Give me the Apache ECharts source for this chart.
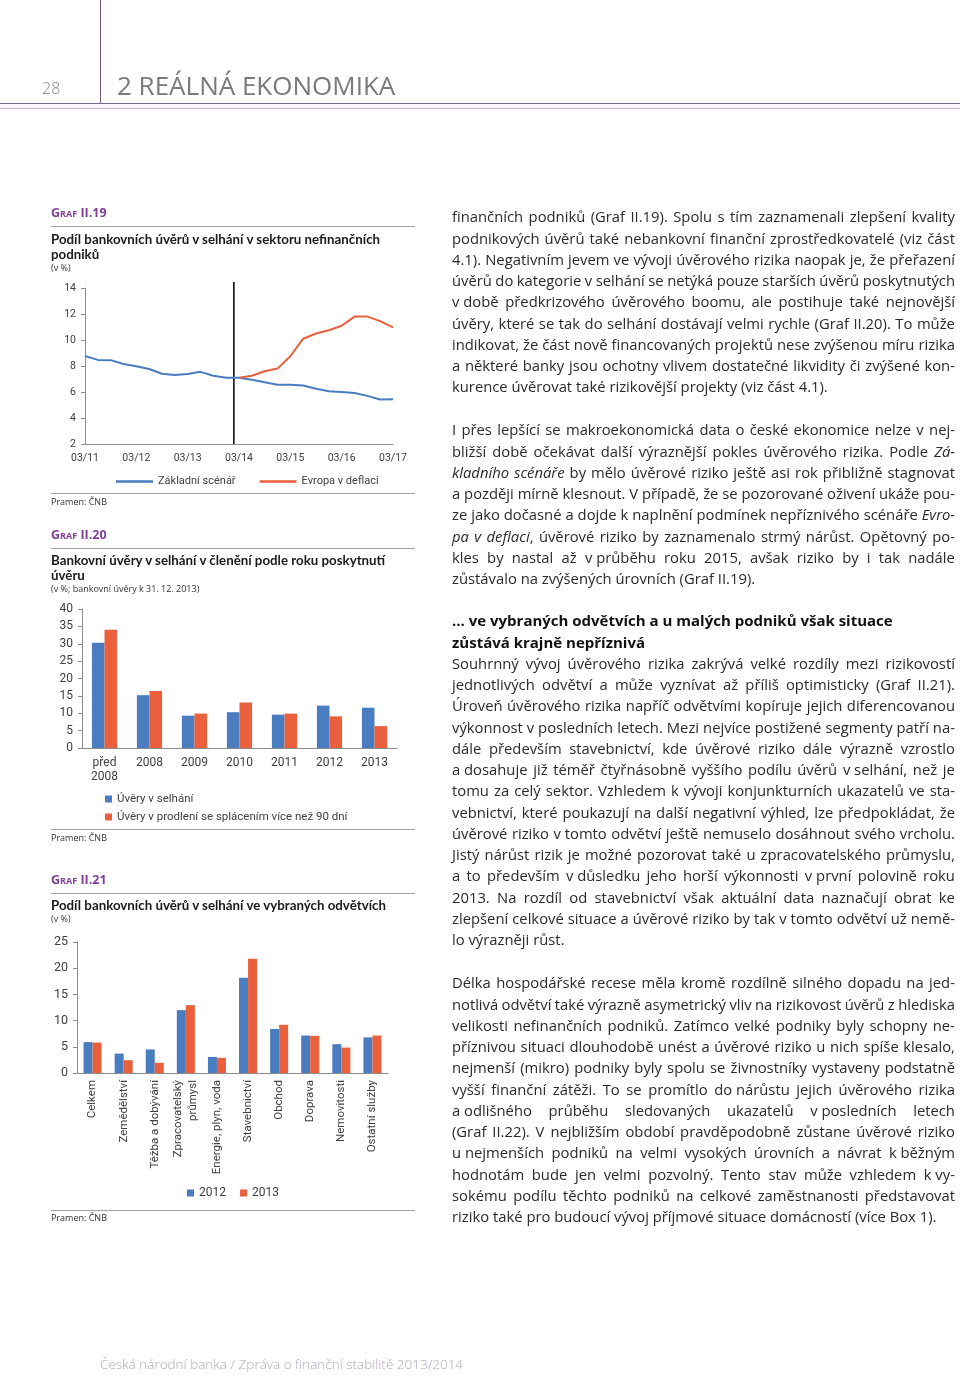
<!DOCTYPE html>
<html><head><meta charset="utf-8">
<script src="https://cdn.jsdelivr.net/npm/echarts@6/dist/echarts.min.js"></script>
<style>
body{margin:0;width:960px;height:1376px;position:relative;background:#fff;overflow:hidden;font-family:'Open Sans',sans-serif;color:#2a2a2a;}
#chart{position:absolute;left:0;top:0;width:960px;height:1376px;}
.abs{position:absolute;white-space:nowrap;}
.graf{font-family:'Open Sans',sans-serif;font-weight:700;font-variant:small-caps;color:#7f3f98;font-size:12.5px;line-height:16px;}
.ttl{font-family:'Lato','Open Sans',sans-serif;font-weight:700;font-size:13.3px;line-height:15px;color:#1a1a1a;}
.sub{font-size:9px;line-height:12px;color:#333;}
.src{font-size:9px;line-height:12px;color:#333;}
.sep{position:absolute;left:51px;width:364px;height:1px;background:#a3a3a3;}
.body{position:absolute;left:452px;width:503px;font-size:14.8px;line-height:21.25px;font-weight:400;}
.ln{display:flex;justify-content:space-between;white-space:nowrap;height:21.25px;}
.ln.last{display:block;}
.bold{font-weight:700;font-size:15px;color:#111;}
</style></head>
<body>
<div id="chart"></div>

<!-- header -->
<div class="abs" style="left:100px;top:0;width:1px;height:104px;background:#6f5d82"></div>
<div class="abs" style="left:0;top:103px;width:960px;height:6px;background:#fcf5fb;border-top:1.5px solid #7b6a8c;border-bottom:1px solid #c8b6cf;box-sizing:border-box"></div>
<div class="abs" style="left:42px;top:77px;font-size:16px;line-height:22px;color:#8a8a8a;font-weight:300">28</div>
<div class="abs" style="left:117px;top:67px;font-size:26px;line-height:36px;color:#7a7a7a;font-weight:400">2 REÁLNÁ EKONOMIKA</div>

<!-- Graf II.19 -->
<div class="abs graf" style="left:51px;top:205px">Graf II.19</div>
<div class="sep" style="top:226px"></div>
<div class="abs ttl" style="left:51px;top:232px">Podíl bankovních úvěrů v selhání v sektoru nefinančních<br>podniků</div>
<div class="abs sub" style="left:51px;top:262px">(v %)</div>
<div class="sep" style="top:493px"></div>
<div class="abs src" style="left:51px;top:496px">Pramen: ČNB</div>

<!-- Graf II.20 -->
<div class="abs graf" style="left:51px;top:527px">Graf II.20</div>
<div class="sep" style="top:548px"></div>
<div class="abs ttl" style="left:51px;top:553px">Bankovní úvěry v selhání v členění podle roku poskytnutí<br>úvěru</div>
<div class="abs sub" style="left:51px;top:583px">(v %; bankovní úvěry k 31. 12. 2013)</div>
<div class="sep" style="top:829px"></div>
<div class="abs src" style="left:51px;top:832px">Pramen: ČNB</div>

<!-- Graf II.21 -->
<div class="abs graf" style="left:51px;top:872px">Graf II.21</div>
<div class="sep" style="top:893px"></div>
<div class="abs ttl" style="left:51px;top:898px">Podíl bankovních úvěrů v selhání ve vybraných odvětvích</div>
<div class="abs sub" style="left:51px;top:913px">(v %)</div>
<div class="sep" style="top:1210px"></div>
<div class="abs src" style="left:51px;top:1212px">Pramen: ČNB</div>

<!-- body text -->
<div class="body" id="p1" style="top:206.4px"></div>
<div class="body" id="p2" style="top:419.4px"></div>
<div class="body" id="p3" style="top:610.4px"></div>
<div class="body" id="p4" style="top:972.4px"></div>

<div class="abs" style="left:100px;top:1353px;font-size:13.5px;line-height:22px;color:#b3a5ba;font-weight:300">Česká národní banka / Zpráva o finanční stabilitě 2013/2014</div>

<script>
// ---------- chart data ----------
// Graf II.19 (quarterly, 03/11 .. 03/17)
const q19TickLabels = ['03/11','03/12','03/13','03/14','03/15','03/16','03/17'];
const baseScenario = [8.77,8.47,8.45,8.15,7.98,7.77,7.40,7.30,7.38,7.55,7.25,7.10,7.10,6.95,6.75,6.55,6.55,6.50,6.25,6.05,6.00,5.93,5.70,5.42,5.45];
const deflationScenario = [7.10,7.25,7.60,7.80,8.75,10.10,10.50,10.75,11.10,11.80,11.80,11.45,10.97];
const deflationStartIndex = 12;
const forecastBoundary = 11.6;
const boundaryLine = [[forecastBoundary, 0], [forecastBoundary, 1]];

// Graf II.20
const yearCats = ['před\n2008','2008','2009','2010','2011','2012','2013'];
const defaultedLoans = [30.3,15.2,9.3,10.3,9.6,12.2,11.6];
const overdue90Loans = [34.0,16.4,9.9,13.1,9.9,9.1,6.3];

// Graf II.21
const sectorCats = ['Celkem','Zemědělství','Těžba a dobývání','Zpracovatelský\nprůmysl','Energie, plyn, voda','Stavebnictví','Obchod','Doprava','Nemovitosti','Ostatní služby'];
const share2012 = [5.9,3.7,4.5,12.0,3.05,18.2,8.4,7.15,5.5,6.8];
const share2013 = [5.8,2.45,1.95,12.95,2.9,21.8,9.2,7.1,4.85,7.15];

const BLUE = '#4a7dc0', RED = '#ea5f3c', AX = '#8c8c8c', LBL = '#404040';

const chart = echarts.init(document.getElementById('chart'));
const yAxisBase = (gi, min, max, interval, fs) => ({
  gridIndex: gi, type: 'value', min, max, interval,
  axisLine: {show: true, lineStyle: {color: AX, width: 1}},
  axisTick: {show: true, length: 4, lineStyle: {color: AX}},
  splitLine: {show: false},
  axisLabel: {fontSize: fs, color: LBL, margin: 9, fontFamily: 'Roboto'}
});
chart.setOption({
  animation: false,
  textStyle: {fontFamily: 'Roboto'},
  grid: [
    {left: 85, top: 288, width: 308, height: 156},
    {left: 82, top: 609, width: 315, height: 139},
    {left: 77, top: 942, width: 311, height: 131},
    {left: 85, top: 282, width: 308, height: 162}
  ],
  xAxis: [
    {gridIndex: 0, type: 'value', min: 0, max: 24, interval: 4,
     axisLine: {lineStyle: {color: AX}}, axisTick: {show: false}, splitLine: {show: false},
     axisLabel: {formatter: v => q19TickLabels[v / 4], fontSize: 10.5, color: LBL, margin: 9}},
    {gridIndex: 1, type: 'category', data: yearCats,
     axisLine: {lineStyle: {color: AX}}, axisTick: {show: false},
     axisLabel: {fontSize: 12, lineHeight: 14, color: LBL, margin: 8, interval: 0}},
    {gridIndex: 2, type: 'category', data: sectorCats,
     axisLine: {lineStyle: {color: AX}}, axisTick: {show: false},
     axisLabel: {rotate: 90, fontSize: 11.5, lineHeight: 15, color: LBL, margin: 7, interval: 0}},
    {gridIndex: 3, type: 'value', min: 0, max: 24, show: false}
  ],
  yAxis: [
    yAxisBase(0, 2, 14, 2, 10.5),
    yAxisBase(1, 0, 40, 5, 12),
    yAxisBase(2, 0, 25, 5, 12.5),
    {gridIndex: 3, type: 'value', min: 0, max: 1, show: false}
  ],
  legend: [
    {data: ['Základní scénář', 'Evropa v deflaci'], left: 111, top: 471, icon: 'rect',
     itemWidth: 37, itemHeight: 2.5, itemGap: 24, textStyle: {fontSize: 11, color: LBL}},
    {data: ['Úvěry v selhání', 'Úvěry v prodlení se splácením více než 90 dní'], orient: 'vertical',
     left: 100, top: 788, icon: 'rect', itemWidth: 7, itemHeight: 7, itemGap: 6,
     textStyle: {fontSize: 11.5, color: LBL}},
    {data: ['2012', '2013'], left: 182, top: 1182, icon: 'rect', itemWidth: 7, itemHeight: 7,
     itemGap: 14, textStyle: {fontSize: 12, color: LBL}}
  ],
  series: [
    {name: 'Základní scénář', type: 'line', xAxisIndex: 0, yAxisIndex: 0, symbol: 'none',
     data: baseScenario.map((v, i) => [i, v]), lineStyle: {color: BLUE, width: 2}, itemStyle: {color: BLUE}, z: 3},
    {name: 'Evropa v deflaci', type: 'line', xAxisIndex: 0, yAxisIndex: 0, symbol: 'none',
     data: deflationScenario.map((v, i) => [i + deflationStartIndex, v]),
     lineStyle: {color: RED, width: 2}, itemStyle: {color: RED}, z: 3},
    {name: 'hranice', type: 'line', xAxisIndex: 3, yAxisIndex: 3, symbol: 'none', silent: true,
     data: boundaryLine, lineStyle: {color: '#000', width: 1.5}, z: 2},
    {name: 'Úvěry v selhání', type: 'bar', xAxisIndex: 1, yAxisIndex: 1, data: defaultedLoans,
     itemStyle: {color: BLUE}, barGap: '0%', barCategoryGap: '44%'},
    {name: 'Úvěry v prodlení se splácením více než 90 dní', type: 'bar', xAxisIndex: 1, yAxisIndex: 1,
     data: overdue90Loans, itemStyle: {color: RED}, barGap: '0%', barCategoryGap: '44%'},
    {name: '2012', type: 'bar', xAxisIndex: 2, yAxisIndex: 2, data: share2012,
     itemStyle: {color: BLUE}, barGap: '0%', barCategoryGap: '42%'},
    {name: '2013', type: 'bar', xAxisIndex: 2, yAxisIndex: 2, data: share2013,
     itemStyle: {color: RED}, barGap: '0%', barCategoryGap: '42%'}
  ]
});

// ---------- body text (line breaks as in the original) ----------
const NB = '\u00a0';
const p1 = [
 'finančních podniků (Graf II.19). Spolu s tím zaznamenali zlepšení kvality',
 'podnikových úvěrů také nebankovní finanční zprostředkovatelé (viz část',
 '4.1). Negativním jevem ve vývoji úvěrového rizika naopak je, že přeřazení',
 'úvěrů do kategorie v selhání se netýká pouze starších úvěrů poskytnutých',
 'v'+NB+'době předkrizového úvěrového boomu, ale postihuje také nejnovější',
 'úvěry, které se tak do selhání dostávají velmi rychle (Graf II.20). To může',
 'indikovat, že část nově financovaných projektů nese zvýšenou míru rizika',
 'a některé banky jsou ochotny vlivem dostatečné likvidity či zvýšené kon-',
 'kurence úvěrovat také rizikovější projekty (viz část 4.1).'
];
const p2 = [
 'I přes lepšící se makroekonomická data o české ekonomice nelze v nej-',
 'bližší době očekávat další výraznější pokles úvěrového rizika. Podle <i>Zá-</i>',
 '<i>kladního</i> <i>scénáře</i> by mělo úvěrové riziko ještě asi rok přibližně stagnovat',
 'a později mírně klesnout. V případě, že se pozorované oživení ukáže pou-',
 'ze jako dočasné a dojde k naplnění podmínek nepříznivého scénáře <i>Evro-</i>',
 '<i>pa</i> <i>v</i> <i>deflaci</i>, úvěrové riziko by zaznamenalo strmý nárůst. Opětovný po-',
 'kles by nastal až v'+NB+'průběhu roku 2015, avšak riziko by i tak nadále',
 'zůstávalo na zvýšených úrovních (Graf II.19).'
];
const head3 = [
 '… ve vybraných odvětvích a u malých podniků však situace',
 'zůstává krajně nepříznivá'
];
const p3 = [
 'Souhrnný vývoj úvěrového rizika zakrývá velké rozdíly mezi rizikovostí',
 'jednotlivých odvětví a může vyznívat až příliš optimisticky (Graf II.21).',
 'Úroveň úvěrového rizika napříč odvětvími kopíruje jejich diferencovanou',
 'výkonnost v'+NB+'posledních letech. Mezi nejvíce postižené segmenty patří na-',
 'dále především stavebnictví, kde úvěrové riziko dále výrazně vzrostlo',
 'a'+NB+'dosahuje již téměř čtyřnásobně vyššího podílu úvěrů v'+NB+'selhání, než je',
 'tomu za celý sektor. Vzhledem k vývoji konjunkturních ukazatelů ve sta-',
 'vebnictví, které poukazují na další negativní výhled, lze předpokládat, že',
 'úvěrové riziko v'+NB+'tomto odvětví ještě nemuselo dosáhnout svého vrcholu.',
 'Jistý nárůst rizik je možné pozorovat také u zpracovatelského průmyslu,',
 'a to především v'+NB+'důsledku jeho horší výkonnosti v'+NB+'první polovině roku',
 '2013. Na rozdíl od stavebnictví však aktuální data naznačují obrat ke',
 'zlepšení celkové situace a úvěrové riziko by tak v tomto odvětví už nemě-',
 'lo výrazněji růst.'
];
const p4 = [
 'Délka hospodářské recese měla kromě rozdílně silného dopadu na jed-',
 'notlivá odvětví také výrazně asymetrický vliv na rizikovost úvěrů z hlediska',
 'velikosti nefinančních podniků. Zatímco velké podniky byly schopny ne-',
 'příznivou situaci dlouhodobě unést a úvěrové riziko u nich spíše klesalo,',
 'nejmenší (mikro) podniky byly spolu se živnostníky vystaveny podstatně',
 'vyšší finanční zátěži. To se promítlo do'+NB+'nárůstu jejich úvěrového rizika',
 'a'+NB+'odlišného průběhu sledovaných ukazatelů v'+NB+'posledních letech',
 '(Graf II.22). V nejbližším období pravděpodobně zůstane úvěrové riziko',
 'u'+NB+'nejmenších podniků na velmi vysokých úrovních a návrat k'+NB+'běžným',
 'hodnotám bude jen velmi pozvolný. Tento stav může vzhledem k'+NB+'vy-',
 'sokému podílu těchto podniků na celkové zaměstnanosti představovat',
 'riziko také pro budoucí vývoj příjmové situace domácností (více Box 1).'
];
function fitLine(d) {
  // shrink letter-spacing slightly if a line's natural width exceeds the column
  const spans = d.querySelectorAll('span');
  let w = 0, chars = 0;
  spans.forEach(s => { w += s.getBoundingClientRect().width; chars += s.textContent.length; });
  const minGap = 3.5 * Math.max(spans.length - 1, 0);
  const over = w + minGap - 503;
  if (over > 0 && chars) d.style.letterSpacing = (-over / chars) + 'px';
}
function fill(id, lines, justifyLast) {
  const el = document.getElementById(id);
  lines.forEach((t, i) => {
    const d = document.createElement('div');
    const isLast = i === lines.length - 1 && !justifyLast;
    d.className = 'ln' + (isLast ? ' last' : '');
    if (isLast) d.innerHTML = t;
    else t.split(' ').forEach(w => { const s = document.createElement('span'); s.innerHTML = w; d.appendChild(s); });
    el.appendChild(d);
    if (!isLast) fitLine(d);
  });
}
fill('p1', p1, false);
fill('p2', p2, false);
const p3el = document.getElementById('p3');
head3.forEach(t => { const d = document.createElement('div'); d.className = 'ln last bold'; d.textContent = t; p3el.appendChild(d); });
fill('p3', p3, false);
fill('p4', p4, false);
</script>
</body></html>
